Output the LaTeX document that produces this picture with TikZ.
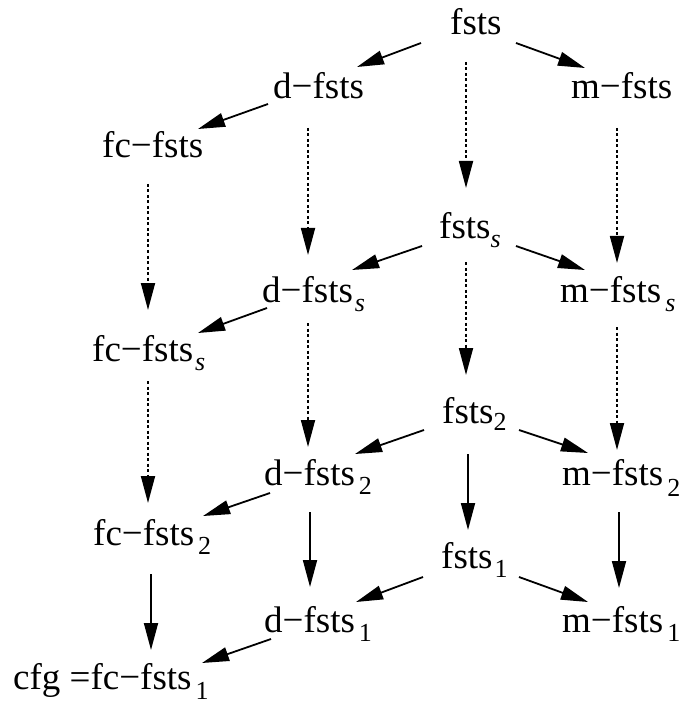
\documentclass[tikz,border=0pt]{standalone}
\usepackage{fontspec}
\setmainfont{Liberation Serif}
\usetikzlibrary{arrows.meta,calc}
\newcommand\lowsub[2][9]{\raisebox{-#1pt}{\fontsize{26}{26}\selectfont #2}}
\tikzset{
  lab/.style={inner sep=0pt, anchor=base west, font=\fontsize{37}{40}\selectfont},
  arr/.style={line width=1.8pt, -{Triangle[length=27pt,width=14pt]}},
  dotarr/.style={arr, dash pattern=on 3pt off 2.5pt},
}
\begin{document}
\begin{tikzpicture}[x=1pt,y=-1pt]
\useasboundingbox (0,0) rectangle (689,708);
% nodes
\node[lab] (fsts)    at (450,35)  {fsts};
\node[lab] (dfsts)   at (273,99)  {d−fsts};
\node[lab] (mfsts)   at (571,99)  {m−fsts};
\node[lab] (fcfsts)  at (102,158) {fc−fsts};
\node[lab] (fstss)   at (439,239) {fsts\lowsub{\itshape s}};
\node[lab] (dfstss)  at (262,302) {d−fsts\hspace{2pt}\lowsub{\itshape s}};
\node[lab] (mfstss)  at (560,302) {m−fsts\hspace{4pt}\lowsub{\itshape s}};
\node[lab] (fcfstss) at (92,361)  {fc−fsts\hspace{2pt}\lowsub{\itshape s}};
\node[lab] (fsts2)   at (442,423) {fsts\lowsub[7]{2}};
\node[lab] (dfsts2)  at (264,485) {d−fsts\hspace{4pt}\lowsub{2}};
\node[lab] (mfsts2)  at (562,485) {m−fsts\hspace{4pt}\lowsub[11]{2}};
\node[lab] (fcfsts2) at (93,545)  {fc−fsts\hspace{4pt}\lowsub{2}};
\node[lab] (fsts1)   at (441,568) {fsts\hspace{2pt}\lowsub{1}};
\node[lab] (dfsts1)  at (264,632) {d−fsts\hspace{4pt}\lowsub{1}};
\node[lab] (mfsts1)  at (562,632) {m−fsts\hspace{4pt}\lowsub{1}};
\node[lab] (cfg)     at (13,689)  {cfg =fc−fsts\hspace{4pt}\lowsub[10]{1}};
% diagonal arrows
\draw[arr] ($(fsts.base west)+(-29,8)$) -- ($(dfsts.base west)+(84,-32)$);
\draw[arr] ($(fsts.base west)+(66,8)$) -- ($(mfsts.base west)+(14,-31)$);
\draw[arr] ($(dfsts.base west)+(-5,5)$) -- ($(fcfsts.base west)+(96,-29)$);
\draw[arr] ($(fstss.base west)+(-17,7)$) -- ($(dfstss.base west)+(90,-32)$);
\draw[arr] ($(fstss.base west)+(77,7)$) -- ($(mfstss.base west)+(25,-32)$);
\draw[arr] ($(dfstss.base west)+(5,6)$) -- ($(fcfstss.base west)+(106,-28)$);
\draw[arr] ($(fsts2.base west)+(-18,7)$) -- ($(dfsts2.base west)+(91,-31)$);
\draw[arr] ($(fsts2.base west)+(77,7)$) -- ($(mfsts2.base west)+(26,-32)$);
\draw[arr] ($(dfsts2.base west)+(6,8)$) -- ($(fcfsts2.base west)+(110,-29)$);
\draw[arr] ($(fsts1.base west)+(-18,9)$) -- ($(dfsts1.base west)+(92,-30)$);
\draw[arr] ($(fsts1.base west)+(78,9)$) -- ($(mfsts1.base west)+(26,-30)$);
\draw[arr] ($(dfsts1.base west)+(7,7)$) -- ($(cfg.base west)+(189,-26)$);
% dotted vertical arrows
\draw[dotarr] ($(fsts.base west)+(16,27)$) -- ($(fstss.base west)+(27,-51)$);
\draw[dotarr] ($(dfsts.base west)+(35,29)$) -- ($(dfstss.base west)+(46,-47)$);
\draw[dotarr] ($(mfsts.base west)+(46,29)$) -- ($(mfstss.base west)+(57,-39)$);
\draw[dotarr] ($(fcfsts.base west)+(46,26)$) -- ($(fcfstss.base west)+(56,-51)$);
\draw[dotarr] ($(fstss.base west)+(27,23)$) -- ($(fsts2.base west)+(24,-48)$);
\draw[dotarr] ($(dfstss.base west)+(46,21)$) -- ($(dfsts2.base west)+(44,-38)$);
\draw[dotarr] ($(mfstss.base west)+(57,25)$) -- ($(mfsts2.base west)+(55,-35)$);
\draw[dotarr] ($(fcfstss.base west)+(56,20)$) -- ($(fcfsts2.base west)+(55,-42)$);
% solid vertical arrows
\draw[arr] ($(fsts2.base west)+(26,31)$) -- ($(fsts1.base west)+(27,-38)$);
\draw[arr] ($(dfsts2.base west)+(46,27)$) -- ($(dfsts1.base west)+(46,-45)$);
\draw[arr] ($(mfsts2.base west)+(57,27)$) -- ($(mfsts1.base west)+(57,-44)$);
\draw[arr] ($(fcfsts2.base west)+(58,29)$) -- ($(cfg.base west)+(138,-39)$);
\end{tikzpicture}
\end{document}
